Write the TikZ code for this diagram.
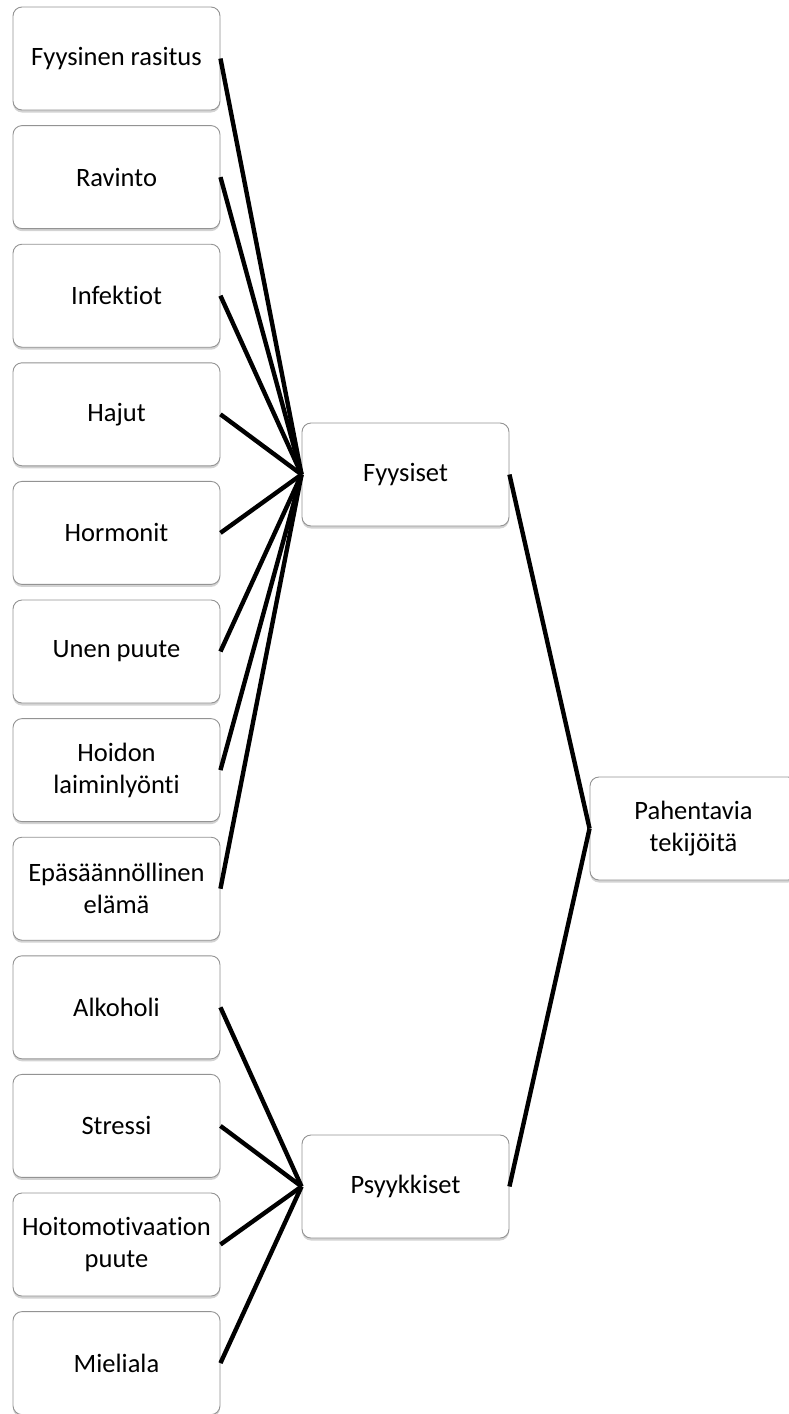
\documentclass[tikz,border=0pt]{standalone}
\usepackage{fontspec}
\setmainfont{Carlito}[Ligatures=NoCommon]
\usetikzlibrary{shadows}
\tikzset{
  factor/.style={draw=gray!85, line width=0.9pt, rounded corners=9pt, fill=white,
    minimum width=207pt, minimum height=103pt, align=center,
    font=\fontsize{26.5}{32}\selectfont,
    drop shadow={shadow xshift=0pt, shadow yshift=-2.5pt, opacity=0.35, fill=gray}},
  link/.style={line width=4.4pt}
}
\begin{document}
\begin{tikzpicture}[x=1pt,y=-1pt]
      \useasboundingbox (0,0) rectangle (788,1414);
      \path
        (116.5,58.5) node[factor] (f1){Fyysinen rasitus}
        (116.5,177.1) node[factor] (f2){Ravinto}
        (116.5,295.7) node[factor] (f3){Infektiot}
        (116.5,414.3) node[factor] (f4){Hajut}
        (116.5,532.9) node[factor] (f5){Hormonit}
        (116.5,651.5) node[factor] (f6){Unen puute}
        (116.5,770.1) node[factor] (f7){Hoidon\\laiminlyönti}
        (116.5,888.7) node[factor] (f8){Epäsäännöllinen\\elämä}
        (116.5,1007.3) node[factor] (p1){Alkoholi}
        (116.5,1125.9) node[factor] (p2){Stressi}
        (116.5,1244.5) node[factor] (p3){Hoitomotivaation\\puute}
        (116.5,1363.1) node[factor] (p4){Mieliala}
        (405.5,474.5) node[factor] (fys){Fyysiset}
        (405.5,1186.5) node[factor] (psy){Psyykkiset}
        (693.5,828.5) node[factor] (pah){Pahentavia\\tekijöitä};
      \begin{scope}[link]
        \draw (f1.east) -- (fys.west);
        \draw (f2.east) -- (fys.west);
        \draw (f3.east) -- (fys.west);
        \draw (f4.east) -- (fys.west);
        \draw (f5.east) -- (fys.west);
        \draw (f6.east) -- (fys.west);
        \draw (f7.east) -- (fys.west);
        \draw (f8.east) -- (fys.west);
        \draw (p1.east) -- (psy.west);
        \draw (p2.east) -- (psy.west);
        \draw (p3.east) -- (psy.west);
        \draw (p4.east) -- (psy.west);
        \draw (fys.east) -- (pah.west);
        \draw (psy.east) -- (pah.west);
      \end{scope}
    \end{tikzpicture}
\end{document}
